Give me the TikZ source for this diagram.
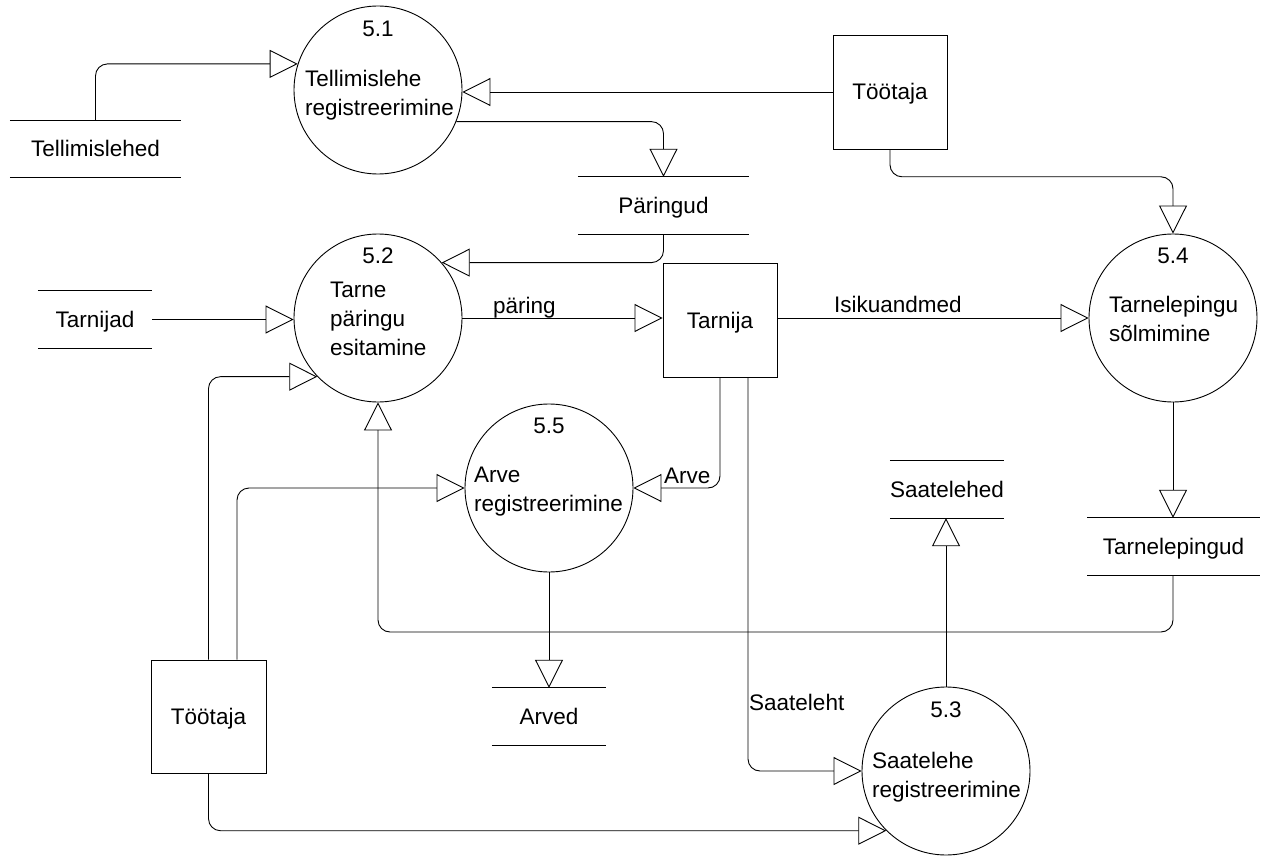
\documentclass[tikz,border=0pt]{standalone}
\usepackage{fontspec}
\setmainfont{Liberation Sans}
\usetikzlibrary{arrows.meta,calc}
\begin{document}
\begin{tikzpicture}[x=1pt,y=-1pt,
  every node/.style={font=\fontsize{22.5}{29}\selectfont, inner sep=0pt},
  proc/.style={circle, draw, minimum size=168pt, line width=0.9pt},
  ent/.style={rectangle, draw, minimum width=114pt, minimum height=114pt, text height=16pt, text depth=0pt, line width=0.9pt},
  store/.style={minimum height=57pt, text height=16pt, text depth=0pt},
  storeline/.style={line width=0.9pt},
  flow/.style={draw, line width=0.9pt, -{Triangle[open,length=28pt,width=28pt]}, rounded corners=12pt},
  num/.style={anchor=base},
  ptext/.style={anchor=north west, align=left},
  lbl/.style={anchor=base west}]
\useasboundingbox (0,0) rectangle (1262,856);

% processes
\node[proc] (p1) at (378,90) {};
\node[proc] (p2) at (378,318) {};
\node[proc] (p4) at (1173,318) {};
\node[proc] (p5) at (549,488) {};
\node[proc] (p3) at (946,771) {};

\node[num] (n1) at (378,37) {5.1};
\node[num] (n2) at (378,263) {5.2};
\node[num] (n4) at (1173,263) {5.4};
\node[num] (n5) at (549,433) {5.5};
\node[num] (n3) at (946,717) {5.3};

\node[ptext] (x1) at (305,69.9) {Tellimislehe\\registreerimine};
\node[ptext] (x2) at (330,281.9) {Tarne\\päringu\\esitamine};
\node[ptext] (x4) at (1109,295.9) {Tarnelepingu\\sõlmimine};
\node[ptext] (x5) at (474,466.9) {Arve\\registreerimine};
\node[ptext] (x3) at (872,751.9) {Saatelehe\\registreerimine};

% entities
\node[ent] (t1) at (890,92) {Töötaja};
\node[ent] (tn) at (720,320) {Tarnija};
\node[ent, minimum width=115pt, minimum height=113pt] (t2) at (208.5,716.5) {Töötaja};

% stores
\node[store, minimum width=171pt] (stl) at (95.5,149) {Tellimislehed};
\node[store, minimum width=171pt] (spa) at (663.5,205.5) {Päringud};
\node[store, minimum width=114pt] (sta) at (95,319.5) {Tarnijad};
\node[store, minimum width=114pt] (ssl) at (947,489.5) {Saatelehed};
\node[store, minimum width=172pt] (stp) at (1173.5,546.5) {Tarnelepingud};
\node[store, minimum width=114pt] (sar) at (549,716.5) {Arved};
\foreach \s in {stl,spa,sta,ssl,stp,sar}
  \draw[storeline] (\s.north west) -- (\s.north east) (\s.south west) -- (\s.south east);

% flows
\coordinate (ybus) at (0,632);
\draw[flow] (stl.north) |- (p1.162);
\draw[flow] (t1.west) -- (t1.west -| p1.east);
\draw[flow] (p1.-22) -| (spa.north);
\draw[flow] (spa.south) |- (p2.41);
\draw[flow] (t1.south) |- (spa.north -| p4.north) -- (p4.north);
\draw[flow] (sta.east) -- (sta.east -| p2.west);
\draw[flow] (p2.east) -- (tn.west |- p2.east);
\draw[flow] (tn.east |- p4.west) -- (p4.west);
\draw[flow] (p4.south) -- (p4.south |- stp.north);
\draw[flow] (p4.south |- stp.south) |- (ybus -| p2.south) -- (p2.south);
\draw[flow] (t2.north) |- (p2.-136);
\draw[flow] ([xshift=28.5pt]t2.north) |- (p5.west);
\draw[flow] (tn.south) |- (p5.east);
\draw[flow] ([xshift=28pt]tn.south) |- (p3.west);
\draw[flow] (p5.south) -- (p5.south |- sar.north);
\draw[flow] (p3.north) -- (p3.north |- ssl.south);
\draw[flow] (t2.south) |- (p3.-135);

% labels
\node[lbl] (l1) at (493,313) {päring};
\node[lbl] (l2) at (834,312) {Isikuandmed};
\node[lbl] (l3) at (664,483) {Arve};
\node[lbl] (l4) at (749,710) {Saateleht};
\end{tikzpicture}
\end{document}
